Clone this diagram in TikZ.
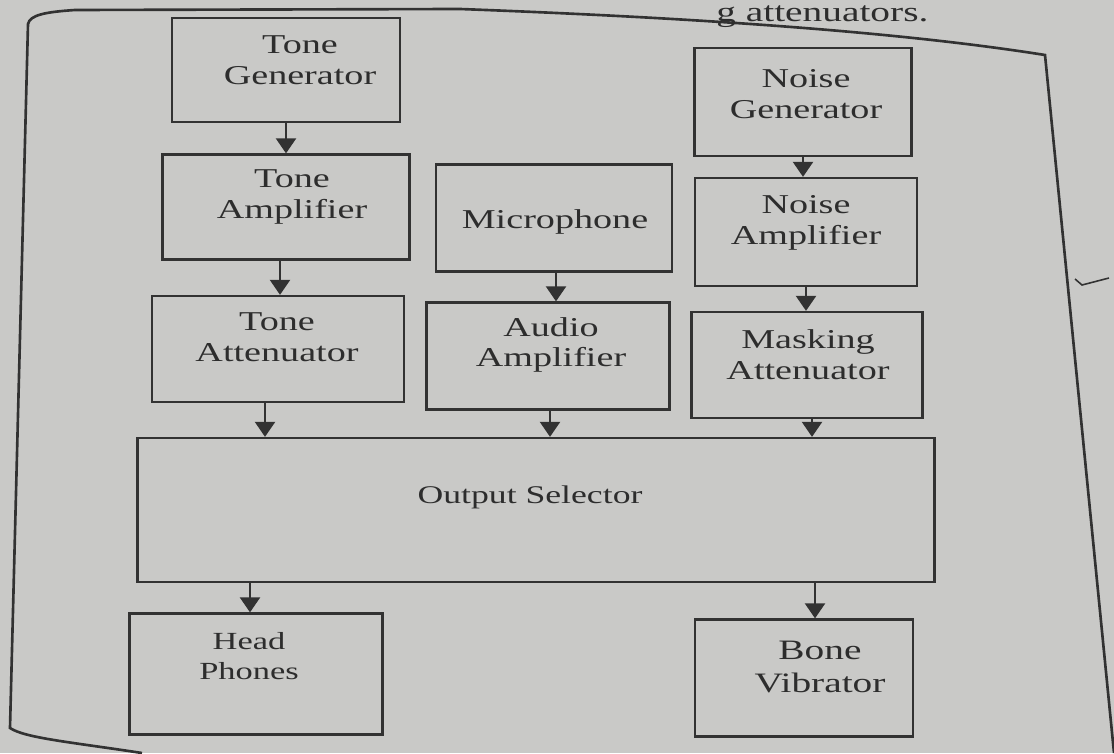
\documentclass[tikz,border=0pt]{standalone}
\usepackage{fontspec}
\setmainfont{Liberation Serif}[FakeStretch=1.4]
\usetikzlibrary{arrows.meta}
\definecolor{paper}{RGB}{201,201,199}
\definecolor{ink}{RGB}{50,50,50}
\definecolor{typeink}{RGB}{45,45,45}
\begin{document}
\begin{tikzpicture}[x=0.02cm,y=-0.02cm,
  blk/.style 2 args={draw=ink, line width=1.3pt, inner sep=0pt,
    minimum width=#1*0.02cm, minimum height=#2*0.02cm},
  lbl/.style={text=typeink, align=center, inner sep=0pt,
    font=\fontsize{15.5}{17.5}\selectfont},
  arr/.style={draw=ink, line width=1.3pt, -{Triangle[width=0.4cm,length=0.3cm]}},
  frame/.style={draw=ink, line width=1.5pt}]
% page
\fill[paper] (0,0) rectangle (1114,753);
\useasboundingbox (0,0) rectangle (1114,753);
\begin{scope}
\clip (0,0) rectangle (1114,753);
% figure frame on the page
\draw[frame] (142,753) .. controls (70,742) and (25,738) .. (10,728)
  -- (28,24) .. controls (30,15) and (45,12) .. (75,10) -- (460,9)
  .. controls (700,18) and (900,32) .. (1045,55) -- (1114,753);
\node[anchor=base west, text=typeink, inner sep=0pt,
  font=\fontsize{16}{18}\selectfont] (pagetext) at (716,22) {g attenuators.};
\draw[ink, line width=0.9pt] (1075,279) -- (1082,285) -- (1109,278);
\end{scope}

% blocks
\node[blk={228}{104}] (tg)   at (286,70)  {};
\node[blk={217}{108}] (ng)   at (803,102) {};
\node[blk={247}{105}] (ta)   at (286,207) {};
\node[blk={236}{107}] (mic)  at (554,218) {};
\node[blk={222}{108}] (na)   at (806,232) {};
\node[blk={252}{106}] (tatt) at (278,349) {};
\node[blk={243}{107}] (aa)   at (548,356) {};
\node[blk={231}{106}] (ma)   at (807,365) {};
\node[blk={797}{144}] (os)   at (536,510) {};
\node[blk={253}{121}] (hp)   at (256,674) {};
\node[blk={218}{117}] (bv)   at (804,678) {};

% block labels
\node[lbl] (tgT)   at (300,60)  {Tone\\Generator};
\node[lbl] (ngT)   at (806,94)  {Noise\\Generator};
\node[lbl] (taT)   at (292,197) {Tone\\Amplifier};
\node[lbl] (micT)  at (555,222) {Microphone};
\node[lbl] (naT)   at (806,223) {Noise\\Amplifier};
\node[lbl] (tattT) at (277,337) {Tone\\Attenuator};
\node[lbl] (aaT)   at (551,345) {Audio\\Amplifier};
\node[lbl] (maT)   at (808,355) {Masking\\Attenuator};
\node[lbl, font=\fontsize{14.5}{17}\selectfont] (osT) at (530,497) {Output Selector};
\node[lbl, font=\fontsize{14}{17}\selectfont] (hpT) at (249,656) {Head\\Phones};
\node[lbl, font=\fontsize{16}{19}\selectfont] (bvT) at (820,667) {Bone\\Vibrator};

% signal flow
\draw[arr] (tg.south) -- (tg.south |- ta.north);
\draw[arr] ([xshift=-0.12cm]ta.south) -- ([xshift=-0.12cm]ta.south |- tatt.north);
\draw[arr] ([xshift=-0.26cm]tatt.south) -- ([xshift=-0.26cm]tatt.south |- os.north);
\draw[arr] ([xshift=0.04cm]mic.south) -- ([xshift=0.04cm]mic.south |- aa.north);
\draw[arr] ([xshift=0.04cm]aa.south) -- ([xshift=0.04cm]aa.south |- os.north);
\draw[arr] (ng.south) -- (ng.south |- na.north);
\draw[arr] (na.south) -- (na.south |- ma.north);
\draw[arr] ([xshift=0.1cm]ma.south) -- ([xshift=0.1cm]ma.south |- os.north);
\draw[arr] (os.south -| hp.north) ++(-0.12cm,0) coordinate (hpTop) -- (hpTop |- hp.north);
\draw[arr] (os.south -| bv.north) ++(0.22cm,0) coordinate (bvTop) -- (bvTop |- bv.north);
\end{tikzpicture}
\end{document}
